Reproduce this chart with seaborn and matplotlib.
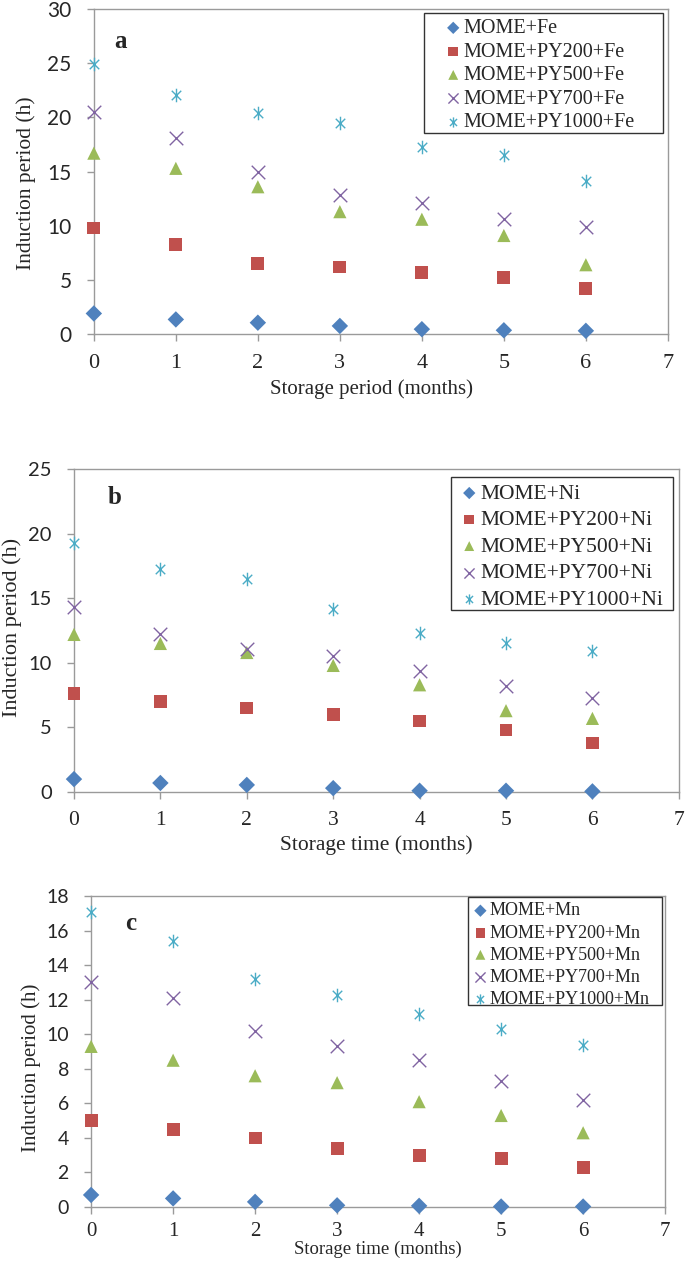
import numpy as np
import pandas as pd
import matplotlib
matplotlib.use("Agg")
import matplotlib.pyplot as plt
from matplotlib.path import Path
from matplotlib.patches import Rectangle
import seaborn as sns

months = [0, 1, 2, 3, 4, 5, 6]
conc = ["", "PY200+", "PY500+", "PY700+", "PY1000+"]

# panel a - Fe
fe_0 = [1.9, 1.35, 1.05, 0.75, 0.45, 0.35, 0.3]
fe_200 = [9.8, 8.3, 6.5, 6.2, 5.7, 5.2, 4.2]
fe_500 = [16.7, 15.3, 13.6, 11.3, 10.6, 9.1, 6.4]
fe_700 = [20.5, 18.1, 15.0, 12.8, 12.1, 10.6, 9.9]
fe_1000 = [24.9, 22.1, 20.4, 19.5, 17.3, 16.5, 14.1]

# panel b - Ni
ni_0 = [1.0, 0.7, 0.55, 0.3, 0.1, 0.1, 0.05]
ni_200 = [7.6, 7.0, 6.5, 6.0, 5.5, 4.8, 3.8]
ni_500 = [12.2, 11.5, 10.8, 9.8, 8.3, 6.3, 5.7]
ni_700 = [14.3, 12.2, 11.1, 10.5, 9.4, 8.2, 7.3]
ni_1000 = [19.3, 17.3, 16.5, 14.2, 12.3, 11.5, 10.9]

# panel c - Mn
mn_0 = [0.7, 0.5, 0.3, 0.1, 0.07, 0.03, 0.03]
mn_200 = [5.0, 4.5, 4.0, 3.4, 3.0, 2.8, 2.3]
mn_500 = [9.3, 8.5, 7.6, 7.2, 6.1, 5.3, 4.3]
mn_700 = [13.0, 12.1, 10.2, 9.3, 8.5, 7.3, 6.2]
mn_1000 = [17.1, 15.4, 13.2, 12.3, 11.2, 10.3, 9.4]

colors = ["#4F81BD", "#C0504D", "#9BBB59", "#8064A2", "#4BACC6"]

# excel style star: x with a vertical bar
star = Path([(-0.7, -0.7), (0.7, 0.7), (-0.7, 0.7), (0.7, -0.7), (0, -1), (0, 1)],
            [Path.MOVETO, Path.LINETO, Path.MOVETO, Path.LINETO, Path.MOVETO, Path.LINETO])
markers = ["D", "s", "^", "x", star]
sizes = [70, 85, 90, 95, 95]

sns.set_theme(style="white")
plt.rcParams["font.family"] = ["Liberation Serif", "DejaVu Serif"]

fig = plt.figure(figsize=(6.85, 12.63), dpi=100)

panels = [
    dict(metal="Fe", data=[fe_0, fe_200, fe_500, fe_700, fe_1000], ymax=30, ystep=5,
         rect=[0.137, 0.7355, 0.838, 0.2573], xlabel="Storage period (months)",
         letter="a", lpos=(0.32, 27.0), leg=(0.598, 0.988), lfs=14.5, lsp=0.22,
         box=(0.575, 0.618, 0.416, 0.370), xpad=9,
         ylc=(-0.10, 0.465), xlc=(0.484, -0.14), fs=15, tfs=16),
    dict(metal="Ni", data=[ni_0, ni_200, ni_500, ni_700, ni_1000], ymax=25, ystep=5,
         rect=[0.108, 0.3729, 0.883, 0.2557], xlabel="Storage time (months)",
         letter="b", lpos=(0.47, 22.8), leg=(0.625, 0.975), lfs=15.5, lsp=0.3,
         box=(0.623, 0.563, 0.367, 0.412), xpad=9,
         ylc=(-0.086, 0.51), xlc=(0.5, -0.135), fs=15.5, tfs=15.5),
    dict(metal="Mn", data=[mn_0, mn_200, mn_500, mn_700, mn_1000], ymax=18, ystep=2,
         rect=[0.133, 0.0443, 0.838, 0.2462], xlabel="Storage time (months)",
         letter="c", lpos=(0.48, 16.4), leg=(0.653, 0.997), lfs=13, lsp=0.28,
         box=(0.657, 0.650, 0.338, 0.347), xpad=6,
         ylc=(-0.087, 0.447), xlc=(0.5, -0.107), fs=13.5, tfs=15),
]

for p in panels:
    ax = fig.add_axes(p["rect"])
    for i, vals in enumerate(p["data"]):
        lab = "MOME+" + conc[i] + p["metal"]
        kw = dict(edgecolor=colors[i], linewidth=1.0) if i >= 3 else dict(edgecolor="none")
        sns.scatterplot(x=months, y=vals, ax=ax, marker=markers[i], color=colors[i],
                        s=sizes[i], label=lab, zorder=3, **kw)
    ax.set_xlim(0, 7)
    ax.set_ylim(0, p["ymax"])
    ax.set_xticks(range(0, 8))
    ax.set_yticks(np.arange(0, p["ymax"] + 0.1, p["ystep"]))
    for c in ax.collections:
        c.set_clip_on(False)
    for s in ax.spines.values():
        s.set_color("#9a9a9a")
        s.set_linewidth(1.0)
    ax.tick_params(axis="both", direction="out", length=5, width=1.0, color="#9a9a9a",
                   bottom=True, left=True)
    ax.tick_params(axis="x", pad=p["xpad"])
    ax.tick_params(axis="y", pad=11)
    for t in ax.get_xticklabels():
        t.set_fontsize(p["tfs"])
        t.set_family("Liberation Serif")
    for t in ax.get_yticklabels():
        t.set_fontsize(p["tfs"] - 1)
        t.set_family("Lato")
    ax.set_xlabel(p["xlabel"], fontsize=p["fs"])
    ax.set_ylabel("Induction period (h)", fontsize=max(p["fs"], 14.5) + 0.5)
    ax.xaxis.set_label_coords(*p["xlc"])
    ax.yaxis.set_label_coords(*p["ylc"])
    ax.text(p["lpos"][0], p["lpos"][1], p["letter"], fontsize=18,
            fontweight="bold", ha="center", va="center")
    ax.legend(loc="upper left", bbox_to_anchor=p["leg"], borderaxespad=0,
              fontsize=p["lfs"], frameon=False,
              handletextpad=0.0, handlelength=1.0, labelspacing=p["lsp"],
              borderpad=0.3, markerscale=0.75)
    bx = p["box"]
    ax.add_patch(Rectangle((bx[0], bx[1]), bx[2], bx[3], transform=ax.transAxes,
                           facecolor="none", edgecolor="#333333", linewidth=1.0,
                           clip_on=False, zorder=4))

fig.savefig("out.png", dpi=100)
